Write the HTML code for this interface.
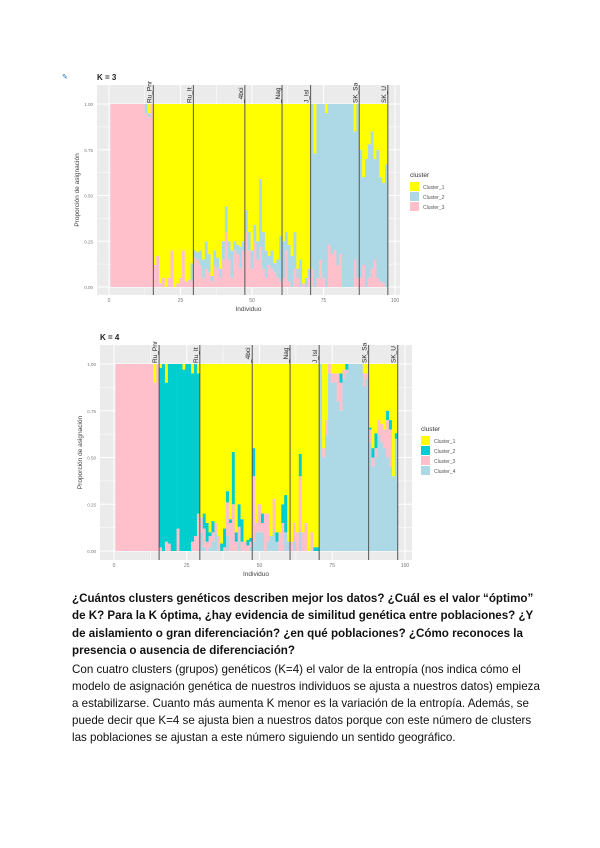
<!DOCTYPE html>
<html><head><meta charset="utf-8">
<style>
body{margin:0;background:#fff;width:600px;height:848px;overflow:hidden;font-family:"Liberation Sans",sans-serif;position:relative}
.p{position:absolute;left:72px;font-size:11.6px;color:#111;margin:0;width:470px}
.b{font-weight:bold;line-height:17.3px;top:590px}
.n{line-height:17px;top:661px}
</style></head><body>
<svg id="chart" width="600" height="590" style="position:absolute;left:0;top:0" font-family="Liberation Sans, sans-serif"></svg>
<p class="p b">¿Cuántos clusters genéticos describen mejor los datos? ¿Cuál es el valor “óptimo” de K? Para la K óptima, ¿hay evidencia de similitud genética entre poblaciones? ¿Y de aislamiento o gran diferenciación? ¿en qué poblaciones? ¿Cómo reconoces la presencia o ausencia de diferenciación?</p>
<p class="p n">Con cuatro clusters (grupos) genéticos (K=4) el valor de la entropía (nos indica cómo el modelo de asignación genética de nuestros individuos se ajusta a nuestros datos) empieza a estabilizarse. Cuanto más aumenta K menor es la variación de la entropía. Además, se puede decir que K=4 se ajusta bien a nuestros datos porque con este número de clusters las poblaciones se ajustan a este número siguiendo un sentido geográfico.</p>
<script>
// K=3 data (bottom to top: Cluster_3 pink, Cluster_2 blue, Cluster_1 yellow = rest)
const k3c3=[1,1,1,1,1,1,1,1,1,1,1,1,0.95,0.93,1,
0.12,0.17,0.02,0.05,0,0.05,0.2,0,0.02,0.05,0.2,0.03,0.04,0.03,
0.16,0.15,0.12,0.05,0.1,0.08,0.03,0.12,0.1,0.05,0.15,0.3,0.15,0.05,0.2,0.18,0.1,0.2,
0.3,0.2,0.1,0.25,0.15,0.22,0.1,0.05,0.12,0.1,0.08,0.05,0.03,
0.05,0.2,0.03,0,0.1,0.05,0,0.02,0,0.05,
0.1,0,0.05,0.15,0.05,0,0.23,0.18,0.2,0.12,0.18,0,0,0,0,0.15,0.05,
0.05,0.12,0,0.05,0.1,0.15,0.05,0.03,0.02,0];
const k3c2=[0,0,0,0,0,0,0,0,0,0,0,0,0.05,0.02,0,
0,0,0,0,0,0,0,0,0,0,0,0,0,0.1,
0.04,0.04,0.08,0.1,0.15,0.1,0.03,0.08,0.06,0.05,0.1,0.14,0.1,0.15,0.05,0.05,0.12,0.05,
0.12,0.1,0.1,0.09,0.1,0.37,0.2,0.15,0.05,0.1,0.05,0.1,0.25,
0.2,0.1,0.2,0.17,0.2,0.05,0.15,0,0.05,0.05,
0.9,0.73,0.95,0.85,0.95,0.95,0.77,0.82,0.8,0.88,0.82,1,1,1,1,0.7,0.95,
0.7,0.48,0.7,0.73,0.75,0.55,0.7,0.57,0.55,0.67];
// K=4 data (bottom to top: Cluster_4 lightblue, Cluster_3 pink, Cluster_2 teal, Cluster_1 yellow = rest)
const k4c4=[0,0,0,0,0,0,0,0,0,0,0,0,0,0,0,
0,0,0,0,0,0,0,0,0,0,0,0,0,0,
0.1,0.02,0,0.02,0.05,0.1,0,0,0,0.08,0,0,0,0.05,0,0,0,0.02,
0.05,0.1,0.1,0.1,0,0.05,0.08,0.1,0.05,0,0,0.1,0.05,
0,0.05,0,0.1,0,0,0,0,0,0,
1,0.5,0.62,0.95,0.9,0.9,0.8,0.75,0.92,0.95,1,1,1,1,1,0.88,0.92,
0.58,0.45,0.5,0.62,0.58,0.55,0.5,0.45,0.4,0.6];
const k4c3=[1,1,1,1,1,1,1,1,1,1,1,1,1,0.9,1,
0.02,0,0.05,0.04,0,0,0.12,0,0,0,0,0.05,0.08,0.2,
0.08,0.1,0.05,0.06,0.05,0.05,0.08,0,0.02,0.18,0.15,0.25,0.05,0.08,0.05,0.05,0.03,0.03,
0.35,0.05,0.15,0.05,0.2,0.15,0,0.18,0,0.1,0.15,0,0,
0.05,0.1,0.1,0.3,0.1,0.15,0,0.1,0,0,
0,0.05,0.08,0.05,0.05,0.05,0.15,0.15,0.05,0.02,0,0,0,0,0,0.07,0.03,
0.07,0.05,0.05,0.08,0.1,0.1,0.2,0.2,0,0];
const k4c2=[0,0,0,0,0,0,0,0,0,0,0,0,0,0,0,
0.96,1,0.85,0.96,1,1,0.88,1,0.97,1,1,0.9,0.92,0.75,
0,0.08,0.1,0.02,0.06,0,0,0.04,0.1,0.06,0.02,0.28,0.05,0.12,0.12,0,0.03,0.02,
0.15,0,0,0.05,0,0,0,0,0.05,0,0.1,0.2,0,
0,0,0,0.12,0,0,0,0,0.02,0.02,
0,0,0,0,0,0,0,0.05,0,0.03,0,0,0,0,0,0,0,
0.01,0.05,0.08,0,0,0,0.05,0.05,0,0.03];
const popBreaks=[15.5,29.5,47.5,60.5,70.5,87.5,97.5];
const popLabels=["Ru_Pnr","Ru_It","_4bci","_Nag","J_Isl","SK_Sa","SK_U"];
const xTicks=[0,25,50,75,100];
const yTicks=[0,0.25,0.5,0.75,1];
const yTickLabels=["0.00","0.25","0.50","0.75","1.00"];
const k3Names=["Cluster_1","Cluster_2","Cluster_3"];
const k4Names=["Cluster_1","Cluster_2","Cluster_3","Cluster_4"];

const NS="http://www.w3.org/2000/svg";
const svg=document.getElementById('chart');
function mk(tag,attrs,parent,txt){const e=document.createElementNS(NS,tag);for(const k in attrs)e.setAttribute(k,attrs[k]);if(txt!==undefined)e.textContent=txt;(parent||svg).appendChild(e);return e;}

function plot(cfg){
  const g=mk('g',{});
  
  
  const P=cfg.panel;
  const xs=i=>cfg.x0+i*(cfg.x100-cfg.x0)/100;
  const ys=v=>cfg.y0-v*(cfg.y0-cfg.y1);
  const bg=mk('rect',{x:P[0],y:P[1],width:P[2]-P[0],height:P[3]-P[1],fill:'#ebebeb'},g);
  
  // grid
  for(let t=0;t<=100;t+=12.5){const l=mk('line',{x1:xs(t),x2:xs(t),y1:P[1],y2:P[3],stroke:'#fff','stroke-width':(t%25===0)?1:0.5},g);}
  for(let t=0;t<=1.0001;t+=0.125){mk('line',{x1:P[0],x2:P[2],y1:ys(t),y2:ys(t),stroke:'#fff','stroke-width':(Math.round(t*1000)%250===0)?1:0.5},g);}
  const bw=(cfg.x100-cfg.x0)/100;
  const n=cfg.layers[0].vals.length;
  for(let i=0;i<n;i++){
    let acc=0;
    cfg.layers.forEach(L=>{
      const v=L.vals===null?Math.max(0,1-acc):L.vals[i];
      if(v>0){const r=mk('rect',{x:xs(i+1)-bw/2,y:ys(acc+v),width:bw+0.3,height:ys(acc)-ys(acc+v),fill:L.color},g);
      }
      acc+=v;
    });
  }
  popBreaks.forEach((b,j)=>{
    const l=mk('line',{x1:xs(b),x2:xs(b),y1:P[1],y2:P[3],stroke:'#555','stroke-width':1},g);
    
    const tx=mk('text',{x:0,y:0,transform:`translate(${xs(b)-2},${cfg.y1-1}) rotate(-90)`,'font-size':6.5,fill:'#222'},g,popLabels[j]);
    
  });
  yTicks.forEach((t,j)=>{const e=mk('text',{x:P[0]-4,y:ys(t)+2,'font-size':4.5,fill:'#777','text-anchor':'end'},g,yTickLabels[j]);});
  xTicks.forEach(t=>{const e=mk('text',{x:xs(t),y:P[3]+7,'font-size':5,fill:'#777','text-anchor':'middle'},g,String(t));});
  const xt=mk('text',{x:(P[0]+P[2])/2,y:P[3]+16,'font-size':6.5,fill:'#444','text-anchor':'middle'},g,'Individuo');
  
  const yt=mk('text',{x:0,y:0,transform:`translate(${P[0]-18},${(P[1]+P[3])/2}) rotate(-90)`,'font-size':6.5,fill:'#444','text-anchor':'middle'},g,'Proporción de asignación');
  
  const tt=mk('text',{x:P[0],y:P[1]-5,'font-size':8,'font-weight':'bold',fill:'#222'},g,cfg.title);
  
  const lg=cfg.legend;
  const lt=mk('text',{x:lg[0],y:lg[1],'font-size':6.5,fill:'#333'},g,'cluster');
  
  cfg.legendItems.forEach((it,j)=>{
    const r=mk('rect',{x:lg[0],y:lg[1]+5+j*10,width:9,height:9,fill:it.color},g);
    
    const e=mk('text',{x:lg[0]+13,y:lg[1]+12+j*10,'font-size':5,fill:'#555'},g,it.name);
    
  });
}
const Y='#ffff00',B='#add8e6',PK='#ffc0cb',T='#00cdcd';
plot({name:'k3-structure-plot',title:'K = 3',panel:[97,85,400,295],x0:109,x100:395,y0:287,y1:104,
  layers:[{vals:k3c3,color:PK},{vals:k3c2,color:B},{vals:null,color:Y}],
  legend:[410,177],legendItems:[{name:k3Names[0],color:Y},{name:k3Names[1],color:B},{name:k3Names[2],color:PK}]});
plot({name:'k4-structure-plot',title:'K = 4',panel:[100,345,412,560],x0:114,x100:405,y0:551,y1:364,
  layers:[{vals:k4c4,color:B},{vals:k4c3,color:PK},{vals:k4c2,color:T},{vals:null,color:Y}],
  legend:[421,431],legendItems:[{name:k4Names[0],color:Y},{name:k4Names[1],color:T},{name:k4Names[2],color:PK},{name:k4Names[3],color:B}]});
const ic=mk('text',{x:62,y:79,'font-size':7,fill:'#2a6fb0'},svg,'✎');


</script>
</body></html>
